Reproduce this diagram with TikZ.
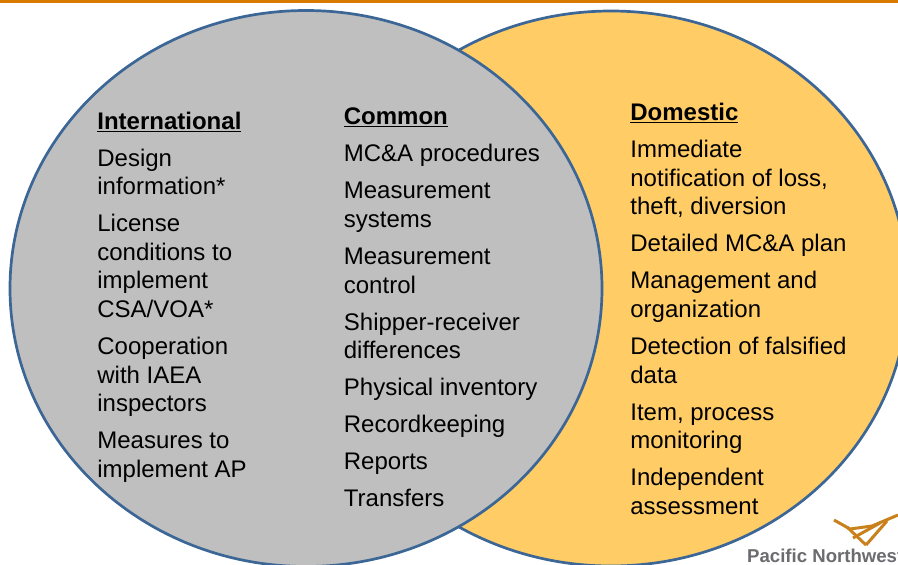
\documentclass[tikz,border=0pt]{standalone}
\usepackage{fontspec}
\setmainfont{Liberation Sans}
\definecolor{barorange}{HTML}{D97A00}
\definecolor{ringblue}{HTML}{3B6696}
\definecolor{domfill}{HTML}{FFCC66}
\definecolor{intfill}{HTML}{BFBFBF}
\definecolor{logogray}{HTML}{6B6B70}
\definecolor{logoorange}{HTML}{C9811C}
\tikzset{
  ring/.style={draw=ringblue,line width=2.7pt},
  column/.style={anchor=north west,inner sep=0pt,align=left,font=\fontsize{24}{28.6}\selectfont,text=black},
  logoline/.style={draw=logoorange,line width=3pt}
}
\newcommand{\heading}[1]{\underline{\textbf{#1}}}
\begin{document}
\begin{tikzpicture}[x=1pt,y=-1pt]
\useasboundingbox (0,0) rectangle (898,565);
\clip (0,0) rectangle (898,565);
\fill[white] (0,0) rectangle (898,565);
\fill[barorange] (0,0) rectangle (898,3);
\draw[ring,fill=domfill] (611,288.5) ellipse [x radius=297pt,y radius=277.5pt];
\draw[ring,fill=intfill] (306,288.5) ellipse [x radius=296pt,y radius=278pt];
\node[column] (International) at (97.2,111.6) {\heading{International}\\[8.4pt]
Design\\information*\\[8.4pt]
License\\conditions to\\implement\\CSA/VOA*\\[8.4pt]
Cooperation\\with IAEA\\inspectors\\[8.4pt]
Measures to\\implement AP};
\node[column] (Common) at (343.7,108) {\heading{Common}\\[8.4pt]
MC\&A procedures\\[8.4pt]
Measurement\\systems\\[8.4pt]
Measurement\\control\\[8.4pt]
Shipper-receiver\\differences\\[8.4pt]
Physical inventory\\[8.4pt]
Recordkeeping\\[8.4pt]
Reports\\[8.4pt]
Transfers};
\node[column] (Domestic) at (630.2,103.1) {\heading{Domestic}\\[8.4pt]
Immediate\\notification of loss,\\theft, diversion\\[8.4pt]
Detailed MC\&A plan\\[8.4pt]
Management and\\organization\\[8.4pt]
Detection of falsified\\data\\[8.4pt]
Item, process\\monitoring\\[8.4pt]
Independent\\assessment};
% logo
\draw[logoline] (834,520) -- (850,529) -- (872,526) -- (898,515);
\draw[logoline] (847,527) -- (866,545);
\draw[logoline] (853,538) -- (880,523);
\draw[logoline] (866,545) -- (887,521);
\node[anchor=base west,inner sep=0pt,text=logogray,font=\fontsize{18.6}{20}\selectfont\bfseries] (Logotext) at (747,562.5) {Pacific Northwest};
\end{tikzpicture}
\end{document}
